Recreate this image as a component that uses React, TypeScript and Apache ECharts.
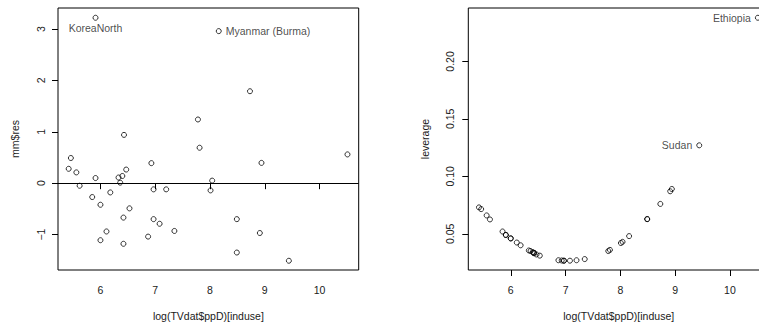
import React, { useEffect, useRef } from "react";
import * as echarts from "echarts";

// log(TVdat$ppD)[induse]
const xVals = [
  5.42, 5.46, 5.56, 5.62, 5.85, 5.91, 5.91, 6.0, 6.0, 6.11, 6.18, 6.33, 6.36,
  6.4, 6.42, 6.42, 6.43, 6.47, 6.53, 6.87, 6.93, 6.97, 6.97, 7.08, 7.2, 7.35,
  7.78, 7.81, 8.01, 8.04, 8.16, 8.49, 8.49, 8.73, 8.91, 8.94, 9.44, 10.51,
];
// mm$res
const resVals = [
  0.28, 0.49, 0.21, -0.05, -0.27, 0.1, 3.22, -0.42, -1.11, -0.94, -0.18, 0.11,
  0.01, 0.14, -0.67, -1.18, 0.94, 0.265, -0.49, -1.04, 0.39, -0.12, -0.7,
  -0.79, -0.12, -0.93, 1.24, 0.69, -0.14, 0.05, 2.96, -0.7, -1.35, 1.79, -0.97,
  0.395, -1.51, 0.56,
];
// leverage
const levVals = [
  0.073, 0.0715, 0.066, 0.0625, 0.052, 0.049, 0.049, 0.046, 0.046, 0.0424,
  0.04, 0.0355, 0.035, 0.034, 0.0335, 0.0335, 0.033, 0.032, 0.031, 0.027,
  0.0268, 0.0266, 0.0266, 0.0266, 0.027, 0.028, 0.035, 0.036, 0.042, 0.043,
  0.048, 0.0628, 0.0628, 0.076, 0.087, 0.089, 0.127, 0.238,
];
// point labels ("" = unlabelled)
const countries = xVals.map(() => "");
countries[6] = "KoreaNorth";
countries[30] = "Myanmar (Burma)";
countries[36] = "Sudan";
countries[37] = "Ethiopia";

const resLabelled = ["KoreaNorth", "Myanmar (Burma)"];
const levLabelled = ["Sudan", "Ethiopia"];

const xTicks = [6, 7, 8, 9, 10];
const resTicks = [-1, 0, 1, 2, 3];
const levTicks = [0.05, 0.1, 0.15, 0.2];

const FONT = "Liberation Sans, Arial, Helvetica, sans-serif";
const FS = 10.5;
const TEXT = "#1a1a1a";

const labelPos: Record<string, any> = {
  KoreaNorth: { position: "bottom", distance: 2 },
  "Myanmar (Burma)": { position: "right", distance: 4 },
  Sudan: { position: "left", distance: 4 },
  Ethiopia: { position: "left", distance: 4 },
};

function buildData(ys: number[], allowed: string[]) {
  return xVals.map((x, i) => {
    const name = countries[i];
    const item: any = { value: [x, ys[i]] };
    if (name && allowed.includes(name)) {
      item.label = {
        show: true,
        formatter: name,
        color: TEXT,
        fontSize: FS,
        fontFamily: FONT,
        ...labelPos[name],
      };
    }
    return item;
  });
}

const xAxisBase = (gridIndex: number) => ({
  type: "value",
  gridIndex,
  min: 5.225,
  max: 10.715,
  name: "log(TVdat$ppD)[induse]",
  nameLocation: "middle",
  nameGap: 40,
  nameTextStyle: { color: TEXT, fontSize: FS, fontFamily: FONT },
  axisLine: { show: false },
  splitLine: { show: false },
  axisTick: {
    show: true,
    length: 6,
    customValues: xTicks,
    lineStyle: { color: "#000", width: 1 },
  },
  axisLabel: {
    customValues: xTicks,
    margin: 14,
    color: TEXT,
    fontSize: FS,
    fontFamily: FONT,
    formatter: (v: number) => String(v),
  },
});

export default function App() {
  const ref = useRef<HTMLDivElement>(null);
  useEffect(() => {
    if (!ref.current) return;
    const chart = echarts.init(ref.current, undefined, { renderer: "svg" });
    const symbolStyle = {
      color: "rgba(0,0,0,0)",
      borderColor: "#000",
      borderWidth: 1,
    };
    chart.setOption({
      animation: false,
      backgroundColor: "#fff",
      grid: [
        {
          left: 58,
          top: 8,
          width: 300.7,
          height: 262,
          show: true,
          borderColor: "#000",
          borderWidth: 1,
          backgroundColor: "transparent",
        },
        {
          left: 468.3,
          top: 8,
          width: 300.8,
          height: 262,
          show: true,
          borderColor: "#000",
          borderWidth: 1,
          backgroundColor: "transparent",
        },
      ],
      xAxis: [xAxisBase(0), xAxisBase(1)],
      yAxis: [
        {
          type: "value",
          gridIndex: 0,
          min: -1.69,
          max: 3.41,
          name: "mm$res",
          nameLocation: "middle",
          nameRotate: 90,
          nameGap: 38,
          nameTextStyle: { color: TEXT, fontSize: FS, fontFamily: FONT },
          axisLine: { show: false },
          splitLine: { show: false },
          axisTick: {
            show: true,
            length: 6,
            customValues: resTicks,
            lineStyle: { color: "#000", width: 1 },
          },
          axisLabel: {
            customValues: resTicks,
            rotate: 90,
            margin: 12,
            color: TEXT,
            fontSize: FS,
            fontFamily: FONT,
            formatter: (v: number) => (v < 0 ? "\u2212" + Math.abs(v) : String(v)),
          },
        },
        {
          type: "value",
          gridIndex: 1,
          min: 0.0185,
          max: 0.2465,
          name: "leverage",
          nameLocation: "middle",
          nameRotate: 90,
          nameGap: 37.5,
          nameTextStyle: { color: TEXT, fontSize: FS, fontFamily: FONT },
          axisLine: { show: false },
          splitLine: { show: false },
          axisTick: {
            show: true,
            length: 6,
            customValues: levTicks,
            lineStyle: { color: "#000", width: 1 },
          },
          axisLabel: {
            customValues: levTicks,
            rotate: 90,
            margin: 13,
            color: TEXT,
            fontSize: FS,
            fontFamily: FONT,
            formatter: (v: number) => v.toFixed(2),
          },
        },
      ],
      series: [
        {
          type: "scatter",
          xAxisIndex: 0,
          yAxisIndex: 0,
          symbol: "circle",
          symbolSize: 5,
          itemStyle: symbolStyle,
          label: { show: false },
          clip: false,
          data: buildData(resVals, resLabelled),
          markLine: {
            silent: true,
            symbol: ["none", "none"],
            label: { show: false },
            lineStyle: { color: "#000", width: 1, type: "solid" },
            data: [{ yAxis: 0 }],
          },
        },
        {
          type: "scatter",
          xAxisIndex: 1,
          yAxisIndex: 1,
          symbol: "circle",
          symbolSize: 5,
          itemStyle: symbolStyle,
          label: { show: false },
          clip: false,
          data: buildData(levVals, levLabelled),
        },
      ],
    });
    return () => chart.dispose();
  }, []);
  return (
    <div
      style={{
        position: "fixed",
        left: 0,
        top: 0,
        width: 759,
        height: 329,
        overflow: "hidden",
        background: "#fff",
      }}
    >
      <div ref={ref} style={{ width: 800, height: 329 }} />
    </div>
  );
}
